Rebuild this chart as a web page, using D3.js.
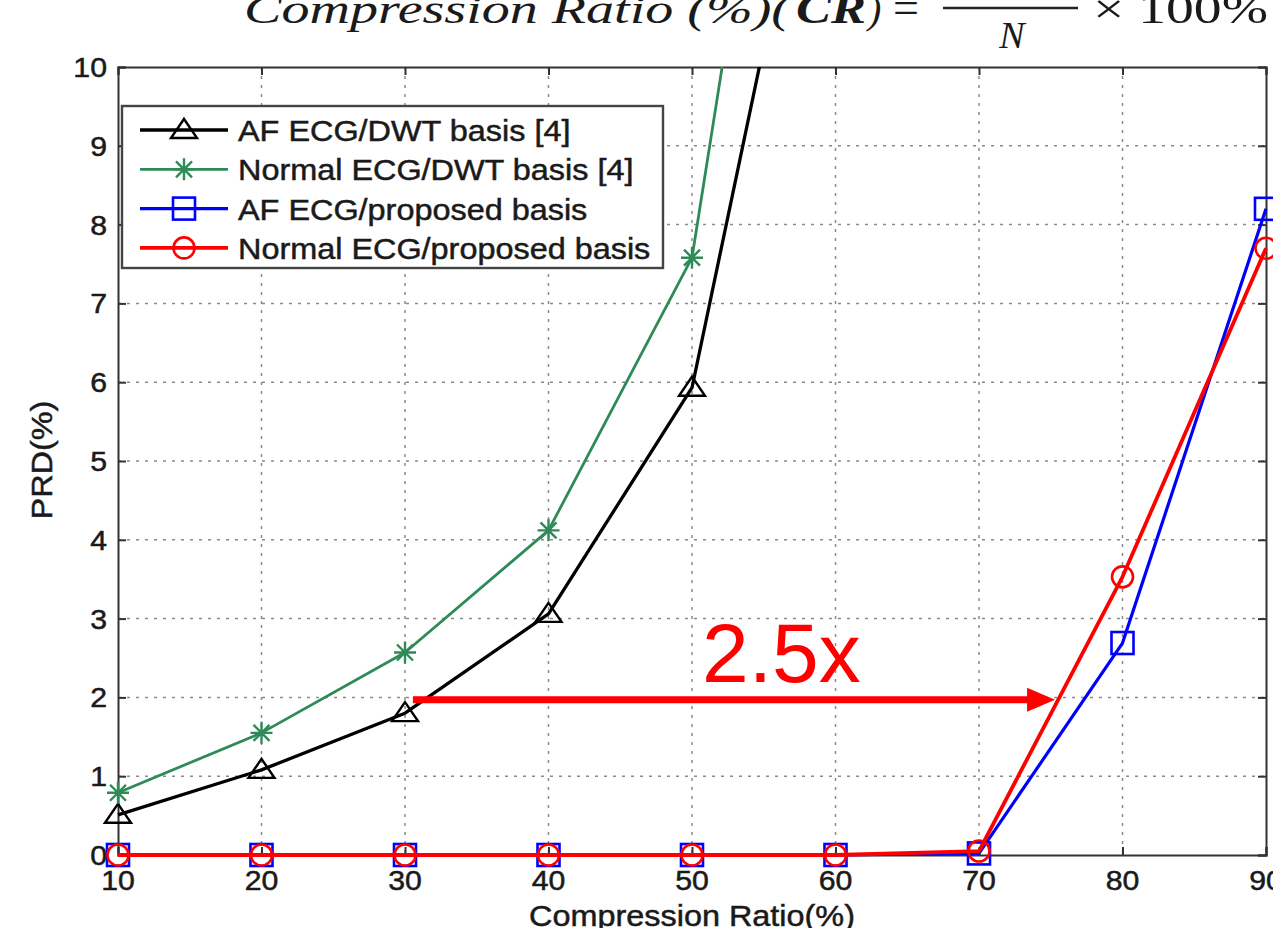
<!DOCTYPE html>
<html>
<head>
<meta charset="utf-8">
<script src="https://cdn.jsdelivr.net/npm/d3@7/dist/d3.min.js"></script>
<style>
body { margin: 0; background: #fff; }
text { font-family: "Liberation Sans", Arial, sans-serif; fill: #1a1a1a; }
.lbl { stroke: #1a1a1a; stroke-width: 0.5; }
.grid line { stroke: #8a8a8a; stroke-width: 1.5; stroke-dasharray: 3,6; }
.tickmark { stroke: #333; stroke-width: 2; }
</style>
</head>
<body>
<svg id="chart" width="1273" height="928"></svg>
<script>
// ---- data ----
var crDwt = [10, 20, 30, 40, 50, 60];
var afDwt = [0.51, 1.08, 1.80, 3.06, 5.93, 14.6];
var normalDwt = [0.79, 1.55, 2.57, 4.12, 7.58, 19.1];

var crProp = [10, 20, 30, 40, 50, 60, 70, 80, 90];
var afProp = [0, 0, 0, 0, 0, 0, 0.02, 2.69, 8.2];
var normalProp = [0, 0, 0, 0, 0, 0, 0.05, 3.53, 7.7];

var xTicks = [10, 20, 30, 40, 50, 60, 70, 80, 90];
var yTicks = [0, 1, 2, 3, 4, 5, 6, 7, 8, 9, 10];

var seriesNames = ["AF ECG/DWT basis [4]", "Normal ECG/DWT basis [4]", "AF ECG/proposed basis", "Normal ECG/proposed basis"];

// arrow annotation (data units): from CR 30.5 to 75.3 at PRD 1.97
var arrowFrom = [30.55, 1.97];
var arrowTo = [75.3, 1.97];
var arrowLabel = "2.5x";
var arrowLabelAt = [50.7, 2.2];

var svg = d3.select("#chart");

var L = 118, R = 1266, T = 67, B = 855;
var x = d3.scaleLinear().domain([10, 90]).range([L, R]);
var y = d3.scaleLinear().domain([0, 10]).range([B, T]);

// formula, cut off at the top like the source
var f = svg.append("g").style("font-family", "'Liberation Serif', 'DejaVu Serif', serif");
f.append("text").attr("x", 244).attr("y", 23).attr("font-size", 40).attr("font-style", "italic")
  .attr("textLength", 546).attr("lengthAdjust", "spacingAndGlyphs")
  .style("font-family", "inherit").text("Compression Ratio (%)(");
f.append("text").attr("x", 796).attr("y", 23).attr("font-size", 42).attr("font-style", "italic").attr("font-weight", "bold")
  .attr("textLength", 70).attr("lengthAdjust", "spacingAndGlyphs")
  .style("font-family", "inherit").text("CR");
f.append("text").attr("x", 868).attr("y", 23).attr("font-size", 40).attr("font-style", "italic")
  .style("font-family", "inherit").text(")");
f.append("text").attr("x", 893).attr("y", 23).attr("font-size", 46)
  .style("font-family", "inherit").text("=");
f.append("line").attr("x1", 943).attr("x2", 1078).attr("y1", 8).attr("y2", 8)
  .attr("stroke", "#222").attr("stroke-width", 2.5);
f.append("text").attr("x", 1012).attr("y", 48).attr("font-size", 38).attr("font-style", "italic")
  .attr("text-anchor", "middle").style("font-family", "inherit").text("N");
f.append("text").attr("x", 1093).attr("y", 23).attr("font-size", 42)
  .attr("textLength", 175).attr("lengthAdjust", "spacingAndGlyphs")
  .style("font-family", "inherit").text("\u00d7 100%");

// grid
var grid = svg.append("g").attr("class", "grid");
grid.selectAll(".gx").data(xTicks.slice(1, -1)).enter().append("line")
  .attr("x1", d => x(d)).attr("x2", d => x(d)).attr("y1", T).attr("y2", B);
grid.selectAll(".gy").data(yTicks.slice(1, -1)).enter().append("line")
  .attr("x1", L).attr("x2", R).attr("y1", d => y(d)).attr("y2", d => y(d));

// axes (ticks inward on all four sides)
var tk = 8;
var axB = svg.append("g").attr("transform", "translate(0," + B + ")")
  .call(d3.axisBottom(x).tickValues(xTicks).tickSize(-tk).tickPadding(0).tickFormat(""));
var axT = svg.append("g").attr("transform", "translate(0," + T + ")")
  .call(d3.axisTop(x).tickValues(xTicks).tickSize(-tk).tickFormat(""));
var axL = svg.append("g").attr("transform", "translate(" + L + ",0)")
  .call(d3.axisLeft(y).tickValues(yTicks).tickSize(-tk).tickFormat(""));
var axR = svg.append("g").attr("transform", "translate(" + R + ",0)")
  .call(d3.axisRight(y).tickValues(yTicks).tickSize(-tk).tickFormat(""));
[axB, axT, axL, axR].forEach(function(a) {
  a.select(".domain").attr("stroke", "#333").attr("stroke-width", 2);
  a.selectAll(".tick line").attr("class", "tickmark");
});

// tick labels (slightly wide font, like the source)
svg.append("g").selectAll("text").data(xTicks).enter().append("text").attr("class", "lbl")
  .attr("transform", d => "translate(" + x(d) + ",890) scale(1.08,1)")
  .attr("text-anchor", "middle").attr("font-size", 28).text(d => d);
svg.append("g").selectAll("text").data(yTicks).enter().append("text").attr("class", "lbl")
  .attr("transform", d => "translate(107," + (y(d) + 10) + ") scale(1.08,1)")
  .attr("text-anchor", "end").attr("font-size", 28).text(d => d);

// axis labels
svg.append("text").attr("class", "lbl").attr("transform", "translate(" + ((L + R) / 2) + ",926) scale(1.08,1)")
  .attr("text-anchor", "middle").attr("font-size", 30).text("Compression Ratio(%)");
svg.append("text").attr("class", "lbl").attr("transform", "translate(52,460) rotate(-90) scale(1.08,1)")
  .attr("text-anchor", "middle").attr("font-size", 30).text("PRD(%)");

// clip to plot area
svg.append("clipPath").attr("id", "plotclip").append("rect")
  .attr("x", L - 15).attr("y", T).attr("width", R - L + 30).attr("height", B - T + 15);
var plot = svg.append("g").attr("clip-path", "url(#plotclip)");

var markers = {
  triangle: function(g, c) {
    g.append("path").attr("d", "M0,-11L13,8L-13,8Z").attr("fill", "none").attr("stroke", c).attr("stroke-width", 2.4);
  },
  star: function(g, c) {
    g.append("path").attr("d", "M-11,0H11M0,-11V11M-8,-8L8,8M-8,8L8,-8").attr("stroke", c).attr("stroke-width", 2.4);
  },
  square: function(g, c) {
    g.append("rect").attr("x", -11).attr("y", -11).attr("width", 22).attr("height", 22)
      .attr("fill", "none").attr("stroke", c).attr("stroke-width", 2.6);
  },
  circle: function(g, c) {
    g.append("circle").attr("r", 10.5).attr("fill", "none").attr("stroke", c).attr("stroke-width", 2.6);
  }
};

var series = [
  { name: seriesNames[0], xs: crDwt, ys: afDwt, color: "#000000", width: 3.3, marker: "triangle" },
  { name: seriesNames[1], xs: crDwt, ys: normalDwt, color: "#2e8b57", width: 2.8, marker: "star" },
  { name: seriesNames[2], xs: crProp, ys: afProp, color: "#0000ff", width: 3.2, marker: "square" },
  { name: seriesNames[3], xs: crProp, ys: normalProp, color: "#ff0000", width: 3.8, marker: "circle" }
];

var line = d3.line().x(d => x(d[0])).y(d => y(d[1]));

series.forEach(function(s) {
  var pts = s.xs.map((v, i) => [v, s.ys[i]]);
  plot.append("path").datum(pts).attr("d", line)
    .attr("fill", "none").attr("stroke", s.color).attr("stroke-width", s.width).attr("stroke-linejoin", "round");
  pts.forEach(function(p) {
    var g = plot.append("g").attr("transform", "translate(" + x(p[0]) + "," + y(p[1]) + ")");
    markers[s.marker](g, s.color);
  });
});

// arrow annotation
var ax1 = x(arrowFrom[0]), ax2 = x(arrowTo[0]), ay = y(arrowFrom[1]);
svg.append("line").attr("x1", ax1).attr("x2", ax2 - 22).attr("y1", ay).attr("y2", ay)
  .attr("stroke", "#ff0000").attr("stroke-width", 7);
svg.append("path").attr("d", "M" + ax2 + "," + ay + "L" + (ax2 - 28) + "," + (ay - 12) + "L" + (ax2 - 28) + "," + (ay + 12) + "Z")
  .attr("fill", "#ff0000");
svg.append("text").attr("x", x(arrowLabelAt[0])).attr("y", y(arrowLabelAt[1]))
  .attr("font-size", 84).style("fill", "#ff0000").text(arrowLabel);

// legend
var lg = svg.append("g");
lg.append("rect").attr("x", 122).attr("y", 106).attr("width", 541).attr("height", 162)
  .attr("fill", "#fff").attr("stroke", "#444").attr("stroke-width", 2.4);
series.forEach(function(s, i) {
  var cy = 130 + i * 39.3;
  lg.append("line").attr("x1", 140).attr("x2", 228).attr("y1", cy).attr("y2", cy)
    .attr("stroke", s.color).attr("stroke-width", s.width);
  var g = lg.append("g").attr("transform", "translate(184," + cy + ")");
  markers[s.marker](g, s.color);
  lg.append("text").attr("class", "lbl").attr("transform", "translate(238," + (cy + 11) + ") scale(1.08,1)")
    .attr("font-size", 30).text(s.name);
});
</script>
</body>
</html>
